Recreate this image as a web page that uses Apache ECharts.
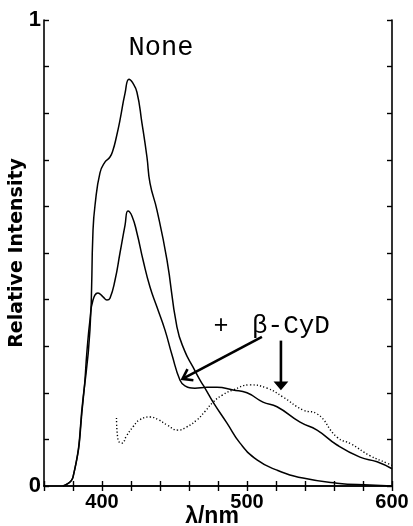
<!DOCTYPE html>
<html>
<head>
<meta charset="utf-8">
<script src="https://cdn.jsdelivr.net/npm/echarts@6/dist/echarts.min.js"></script>
<style>
html,body{margin:0;padding:0;background:#fff;}
#chart{width:413px;height:526px;}
</style>
</head>
<body>
<div id="chart"></div>
<script>
// Wavelength (nm) and relative intensity
const noneWave = [373, 380, 387, 391.7, 393.8, 395.2, 398.6, 402, 405.5, 407.6, 410, 412.4, 415.9, 418.6, 421, 424.1, 427.5, 431, 433.1, 437.9, 444.8, 451.7, 457, 462.8, 467.6, 471, 476.6, 486.2, 495.2, 506.9, 520.7, 538.6, 562.1, 584.8, 600];
const noneInt  = [0, 0.019, 0.19, 0.335, 0.549, 0.603, 0.672, 0.695, 0.706, 0.721, 0.75, 0.785, 0.843, 0.873, 0.866, 0.845, 0.78, 0.706, 0.65, 0.592, 0.485, 0.341, 0.29, 0.255, 0.227, 0.21, 0.18, 0.135, 0.092, 0.056, 0.034, 0.017, 0.006, 0.002, 0];

const cydWave = [373, 380, 387, 389.7, 391.7, 393.8, 397.2, 400.7, 403.4, 405.5, 409, 412.4, 415.9, 417.9, 420.7, 424.1, 428.3, 433.1, 437.9, 443.4, 448.3, 453.8, 457.2, 464.1, 472.4, 479.3, 490.3, 500, 511, 520.7, 536.6, 548.3, 562.1, 577.9, 589.7, 600];
const cydInt  = [0, 0.019, 0.185, 0.292, 0.356, 0.399, 0.414, 0.406, 0.399, 0.403, 0.442, 0.5, 0.56, 0.59, 0.579, 0.543, 0.485, 0.427, 0.384, 0.335, 0.281, 0.227, 0.215, 0.21, 0.212, 0.212, 0.206, 0.2, 0.18, 0.17, 0.137, 0.12, 0.088, 0.062, 0.052, 0.037];

const dotWave = [410, 411, 413.8, 417, 421.4, 426, 433.1, 439, 444.8, 452.4, 458, 465.5, 471, 476.6, 483, 490.3, 502.1, 513.8, 524.8, 538.6, 548.3, 562, 572, 584.8, 596.6, 600];
const dotInt  = [0.146, 0.099, 0.092, 0.108, 0.127, 0.142, 0.148, 0.142, 0.131, 0.12, 0.126, 0.142, 0.16, 0.18, 0.195, 0.206, 0.217, 0.21, 0.191, 0.163, 0.155, 0.105, 0.09, 0.065, 0.049, 0.044];

const xTickLabels = [400, 500, 600];
const yTickLabels = [0, 1];

function pairs(xs, ys){ return xs.map((x,i)=>[x, ys[i]]); }

const chart = echarts.init(document.getElementById('chart'), null, {renderer:'canvas'});
const axisLine = {lineStyle:{color:'#000', width:1.6}};
const axisTick = {inside:true, length:5, lineStyle:{color:'#000', width:1.4}};
const lineBase = {type:'line', showSymbol:false, smooth:0.5, animation:false, z:3};

chart.setOption({
  animation:false,
  grid:{left:44, right:21, top:20, bottom:40, containLabel:false, outerBoundsMode:'none'},
  xAxis:[{
    type:'value', min:360, max:600, interval:20,
    axisLine:axisLine, axisTick:axisTick, splitLine:{show:false},
    axisLabel:{
      margin:6, color:'#000', fontSize:20, fontWeight:'bold', fontFamily:'Liberation Sans',
      formatter:v=> xTickLabels.indexOf(v)>=0 ? String(v) : ''
    },
    name:'λ/nm', nameLocation:'middle', nameGap:19, nameMoveOverlap:false,
    nameTextStyle:{color:'#000', fontSize:23, fontFamily:'Liberation Sans', fontWeight:'bold', padding:[0,12,0,0]}
  },{
    type:'value', position:'top', min:360, max:600, interval:20,
    axisLine:axisLine, axisTick:axisTick, axisLabel:{show:false}, splitLine:{show:false}
  }],
  yAxis:[{
    type:'value', min:0, max:1, interval:0.1,
    axisLine:axisLine, axisTick:axisTick, splitLine:{show:false},
    axisLabel:{
      margin:3, color:'#000', fontSize:22, fontWeight:'bold', fontFamily:'Liberation Sans',
      formatter:v=> yTickLabels.indexOf(Math.round(v*1000)/1000)>=0 ? String(Math.round(v)) : ''
    },
    name:'Relative Intensity', nameLocation:'middle', nameGap:17, nameMoveOverlap:false,
    nameTextStyle:{color:'#000', fontSize:19, fontFamily:'DejaVu Sans', fontWeight:'bold'}
  },{
    type:'value', position:'right', min:0, max:1, interval:0.1,
    axisLine:axisLine, axisTick:axisTick, axisLabel:{show:false}, splitLine:{show:false}
  }],
  series:[
    Object.assign({name:'None', data:pairs(noneWave, noneInt), lineStyle:{color:'#000', width:1.5}}, lineBase),
    Object.assign({name:'+ β-CyD', data:pairs(cydWave, cydInt), lineStyle:{color:'#000', width:1.5}}, lineBase),
    Object.assign({name:'+ β-CyD (dotted)', data:pairs(dotWave, dotInt), lineStyle:{color:'#000', width:1.4, type:[1.2,2.2]}}, lineBase)
  ]
});

// Annotations positioned in data coordinates
const P = (x,y)=>chart.convertToPixel({gridIndex:0}, [x,y]);
const tNone = P(440.7, 0.94);
const tPlus = P(482.1, 0.343);
const tCyd = P(530.3, 0.343);
const a1s = P(510.3, 0.320), a1e = P(455.5, 0.230);
const a2s = P(523.4, 0.312), a2e = P(523.4, 0.208);

function chevron(s, e, len, ang){
  const dx = s[0]-e[0], dy = s[1]-e[1];
  const L = Math.hypot(dx,dy); const ux = dx/L, uy = dy/L;
  const c = Math.cos(ang), sn = Math.sin(ang);
  const w1 = [e[0] + len*(ux*c - uy*sn), e[1] + len*(ux*sn + uy*c)];
  const w2 = [e[0] + len*(ux*c + uy*sn), e[1] + len*(-ux*sn + uy*c)];
  return [w1, e, w2];
}
const ch1 = chevron(a1s, a1e, 11, 35*Math.PI/180);
const ch2 = chevron(a2s, a2e, 9, 40*Math.PI/180);

chart.setOption({
  graphic:[
    {type:'text', x:tNone[0], y:tNone[1], style:{text:'None', fontSize:27, fontFamily:'Liberation Mono', fill:'#000', align:'center', verticalAlign:'middle'}},
    {type:'text', x:tPlus[0], y:tPlus[1], style:{text:'+', fontSize:25, fontFamily:'Liberation Mono', fill:'#000', align:'center', verticalAlign:'middle'}},
    {type:'text', x:tCyd[0], y:tCyd[1], style:{text:'β-CyD', fontSize:26, fontFamily:'Liberation Mono', fill:'#000', align:'center', verticalAlign:'middle'}},
    {type:'line', shape:{x1:a1s[0], y1:a1s[1], x2:a1e[0], y2:a1e[1]}, style:{stroke:'#000', lineWidth:2.6}},
    {type:'polyline', shape:{points:ch1}, style:{stroke:'#000', lineWidth:2.6, fill:null}},
    {type:'line', shape:{x1:a2s[0], y1:a2s[1], x2:a2e[0], y2:a2e[1]-4}, style:{stroke:'#000', lineWidth:2.6}},
    {type:'polygon', shape:{points:ch2}, style:{stroke:'#000', lineWidth:1.5, fill:'#000'}}
  ]
});
</script>
</body>
</html>
